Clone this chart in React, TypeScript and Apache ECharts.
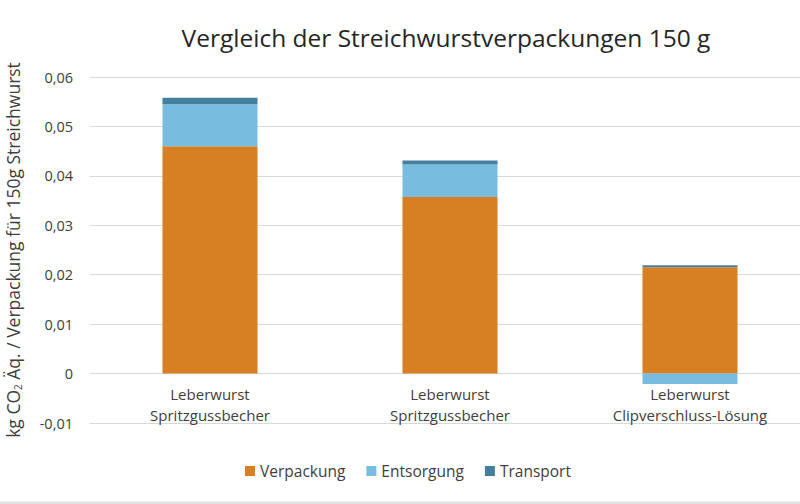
import React, { useEffect, useRef } from "react";
import * as echarts from "echarts";

const categories = [
  "Leberwurst\nSpritzgussbecher",
  "Leberwurst\nSpritzgussbecher",
  "Leberwurst\nClipverschluss-Lösung",
];
const verpackung = [0.046, 0.0357, 0.0215];
const entsorgung = [0.0085, 0.0066, -0.0021];
const transport = [0.0013, 0.0008, 0.0004];
const seriesNames = ["Verpackung", "Entsorgung", "Transport"];
const colors = ["#D68023", "#78BDDF", "#447F9F"];

const FONT = "Open Sans";

export default function App() {
  const ref = useRef<HTMLDivElement>(null);
  useEffect(() => {
    if (!ref.current) return;
    const chart = echarts.init(ref.current, undefined, { renderer: "svg" });
    const data = [verpackung, entsorgung, transport];
    chart.setOption({
      animation: false,
      backgroundColor: "#ffffff",
      textStyle: { fontFamily: FONT },
      title: {
        text: "Vergleich der Streichwurstverpackungen 150 g",
        left: 441,
        textAlign: "center",
        top: 20,
        textStyle: { fontFamily: FONT, fontSize: 24.5, fontWeight: "normal", color: "#262626" },
      },
      legend: {
        top: 458,
        left: 240,
        itemWidth: 10,
        itemHeight: 10,
        itemGap: 21,
        icon: "rect",
        textStyle: { fontFamily: FONT, fontSize: 15.5, color: "#404040" },
        data: seriesNames,
      },
      grid: { left: 90, top: 77, width: 720, height: 346, outerBoundsMode: "none", containLabel: false },
      xAxis: {
        type: "category",
        data: categories,
        axisLine: { show: false },
        axisTick: { show: false },
        axisLabel: {
          fontFamily: FONT,
          fontSize: 15,
          color: "#404040",
          lineHeight: 21,
          margin: -40,
          verticalAlign: "top",
        },
      },
      yAxis: {
        type: "value",
        min: -0.01,
        max: 0.06,
        interval: 0.01,
        axisLine: { show: false },
        axisTick: { show: false },
        splitLine: { lineStyle: { color: "#D9D9D9", width: 1 } },
        axisLabel: {
          fontFamily: FONT,
          fontSize: 14.5,
          color: "#404040",
          margin: 17,
          formatter: (v: number) =>
            Math.abs(v) < 1e-9 ? "0" : v.toFixed(2).replace(".", ","),
        },
        name: "{a|kg CO}{s|2}{a| Äq. / Verpackung für 150g Streichwurst}",
        nameLocation: "middle",
        nameRotate: 90,
        nameGap: 67,
        nameTextStyle: {
          rich: {
            a: { fontFamily: FONT, fontSize: 17.5, color: "#404040" },
            s: { fontFamily: FONT, fontSize: 10, color: "#404040", verticalAlign: "bottom", padding: [10, 0, 0, 0] },
          },
        },
      },
      series: seriesNames.map((n, i) => ({
        name: n,
        type: "bar",
        stack: "total",
        barWidth: "39.6%",
        itemStyle: { color: colors[i] },
        data: data[i],
      })),
      graphic: [
        {
          type: "rect",
          shape: { x: 0, y: 501.5, width: 800, height: 2.5 },
          style: { fill: "#E2E2E2" },
          silent: true,
        },
      ],
    });
    return () => chart.dispose();
  }, []);
  return (
    <div
      ref={ref}
      style={{ position: "absolute", left: 0, top: 0, width: 800, height: 504 }}
    />
  );
}
